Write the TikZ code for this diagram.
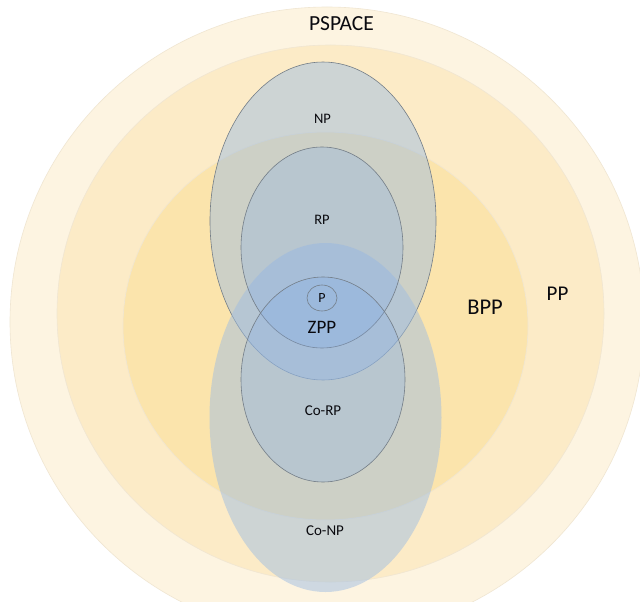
\documentclass[tikz,border=0pt]{standalone}
\usepackage{fontspec}
\setmainfont{Carlito}
\usetikzlibrary{shapes.geometric}
\definecolor{cPS}{RGB}{253,244,225}
\definecolor{cPP}{RGB}{252,235,199}
\definecolor{cBPP}{RGB}{251,228,172}
\definecolor{cEdge}{RGB}{240,230,210}
\definecolor{cBlue}{RGB}{160,190,225}
\definecolor{cBlueB}{RGB}{130,172,232}
\definecolor{cLine}{RGB}{115,125,135}
\definecolor{cText}{RGB}{10,10,15}
\begin{document}
\begin{tikzpicture}[x=1pt,y=-1pt,
  band/.style={draw=cEdge, line width=0.6pt},
  npset/.style={fill=cBlue, fill opacity=0.5},
  rpset/.style={fill=cBlueB, fill opacity=0.27, draw=cLine, line width=0.6pt},
  lbl/.style={text=cText, inner sep=0pt, font=\fontsize{14.5}{15}\selectfont},
  biglbl/.style={text=cText, inner sep=0pt, font=\fontsize{21.5}{22}\selectfont}]
\useasboundingbox (0,0) rectangle (640,602);
\fill[white] (0,0) rectangle (640,602);
\begin{scope}
\clip (0,0) rectangle (640,602);
\filldraw[band, fill=cPS] (327,322) ellipse [x radius=317pt, y radius=315pt];
\filldraw[band, fill=cPP] (330.5,313.5) ellipse [x radius=273.5pt, y radius=268.5pt];
\filldraw[band, fill=cBPP] (325.5,326) ellipse [x radius=202.5pt, y radius=194pt];
\filldraw[npset, draw=cLine, line width=0.6pt] (323,221) ellipse [x radius=113pt, y radius=159pt];
\fill[npset] (325.5,417.5) ellipse [x radius=116pt, y radius=174.5pt];
\filldraw[rpset] (322,247.5) ellipse [x radius=81pt, y radius=100.5pt];
\filldraw[rpset] (323,379.5) ellipse [x radius=82pt, y radius=102.5pt];
\end{scope}
\node[lbl, ellipse, draw=cLine, line width=0.6pt, minimum width=30pt, minimum height=26pt, font=\fontsize{14}{14}\selectfont] (p) at (322,298) {P};
\node[biglbl] (pspace) at (341.5,24) {PSPACE};
\node[biglbl, font=\fontsize{21}{22}\selectfont] (pp) at (557.5,294) {PP};
\node[biglbl, font=\fontsize{22.5}{23}\selectfont] (bpp) at (485,307) {BPP};
\node[lbl, font=\fontsize{19}{20}\selectfont] (zpp) at (322,327) {ZPP};
\node[lbl] (np) at (322.5,119) {NP};
\node[lbl] (rp) at (322,219.5) {RP};
\node[lbl, font=\fontsize{15}{15}\selectfont] (corp) at (323,411) {Co-RP};
\node[lbl, font=\fontsize{15}{15}\selectfont] (conp) at (325,531) {Co-NP};
\end{tikzpicture}
\end{document}
